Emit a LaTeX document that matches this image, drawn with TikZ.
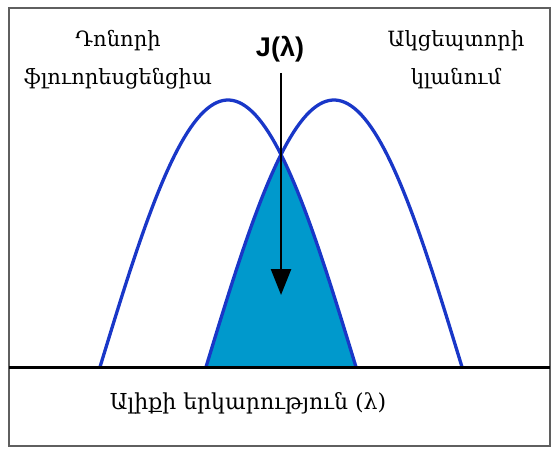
\documentclass[tikz,border=0pt]{standalone}
\usepackage{fontspec}
\setmainfont{DejaVu Serif}
\newfontfamily\jfont{Liberation Sans}
\usetikzlibrary{arrows.meta}
\definecolor{curveblue}{RGB}{25,55,200}
\definecolor{overlapfill}{RGB}{0,153,204}
\definecolor{framegray}{RGB}{95,95,95}
\tikzset{
  lbl/.style={align=center, inner sep=0pt, font=\fontsize{21}{38}\selectfont},
  bump/.style={draw=curveblue, line width=3.3pt},
}
\begin{document}
\begin{tikzpicture}[x=1pt,y=1pt]
\useasboundingbox (0,0) rectangle (553,450);
% overlap fill
\fill[overlapfill] (205.6,83) -- plot[domain=-1:-0.41,samples=40] ({334+128*\x},{83+267*cos(90*\x)})
  -- plot[domain=0.41:1,samples=40] ({228+128*\x},{83+267*cos(90*\x)}) -- cycle;
% curves
\draw[bump] plot[domain=-1:1,samples=80] ({228+128*\x},{83+267*cos(90*\x)});
\draw[bump] plot[domain=-1:1,samples=80] ({334+128*\x},{83+267*cos(90*\x)});
% frame and axis
\draw[framegray, line width=2.5pt] (9,4) rectangle (550,442);
\coordinate (axL) at (9,83);
\coordinate (axR) at (550,83);
\draw[black, line width=3pt] (axL) -- (axR);
% labels
\node[lbl] (donor) at (118,390) {Դոնորի\\ֆլուորեսցենցիա};
\node[lbl] (acceptor) at (456,390) {Ակցեպտորի\\կլանում};
\node[inner sep=0pt, font=\jfont\bfseries\fontsize{27}{30}\selectfont] (J) at (280,401) {J(λ)};
\node[lbl, font=\fontsize{22}{26}\selectfont] (wave) at (248,47) {Ալիքի երկարություն (λ)};
% arrow
\coordinate (aS) at (281,377);
\coordinate (aE) at (281,155);
\draw[line width=2.5pt, -{Triangle[width=20pt,length=26pt]}] (aS) -- (aE);
\end{tikzpicture}
\end{document}
